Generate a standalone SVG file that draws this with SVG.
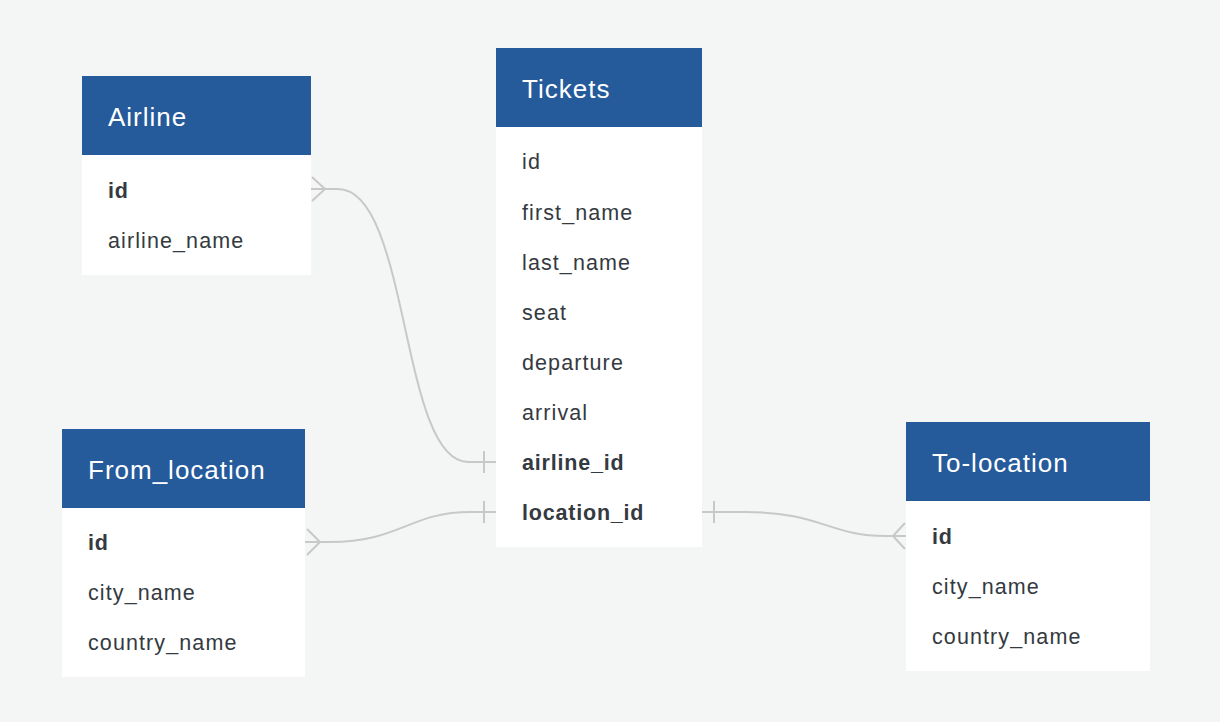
<svg xmlns="http://www.w3.org/2000/svg" width="1220" height="722" viewBox="0 0 1220 722">
<style>
.bg{fill:#f4f6f5}
.body{fill:#ffffff}
.head{fill:#255a9b}
.title{font-family:"Liberation Sans",Arial,sans-serif;font-size:26px;fill:#ffffff;letter-spacing:1px}
.row{font-family:"Liberation Sans",Arial,sans-serif;font-size:21.5px;fill:#343a40;letter-spacing:1.1px}
.b{font-weight:bold;letter-spacing:0.8px}
.conn{fill:none;stroke:#c8c8c8;stroke-width:2}
</style>
<rect class="bg" x="0" y="0" width="1220" height="722"/>
<g id="connectors">
  <path class="conn" d="M311 189 L338 189 C 410 189 400 462 468 462 L496 462"/>
  <path class="conn" d="M325 189 L312 177 M325 189 L312 201"/>
  <path class="conn" d="M484 451 V473"/>
  <path class="conn" d="M305 542 L330 542 C 400 542 410 512 470 512 L496 512"/>
  <path class="conn" d="M320 542 L307 529 M320 542 L307 555"/>
  <path class="conn" d="M484 501 V523"/>
  <path class="conn" d="M702 512 L745 512 C 820 512 830 536 885 536 L906 536"/>
  <path class="conn" d="M714 501 V523"/>
  <path class="conn" d="M893 536 L905 523 M893 536 L905 549"/>
</g>
<g id="airline">
  <rect class="body" x="82" y="76" width="229" height="199"/>
  <rect class="head" x="82" y="76" width="229" height="79"/>
  <text class="title" x="108" y="126">Airline</text>
  <text class="row b" x="108" y="198">id</text>
  <text class="row" x="108" y="248">airline_name</text>
</g>
<g id="tickets">
  <rect class="body" x="496" y="48" width="206" height="499"/>
  <rect class="head" x="496" y="48" width="206" height="79"/>
  <text class="title" x="522" y="98">Tickets</text>
  <text class="row" x="522" y="169">id</text>
  <text class="row" x="522" y="220">first_name</text>
  <text class="row" x="522" y="270">last_name</text>
  <text class="row" x="522" y="320">seat</text>
  <text class="row" x="522" y="370">departure</text>
  <text class="row" x="522" y="420">arrival</text>
  <text class="row b" x="522" y="470">airline_id</text>
  <text class="row b" x="522" y="520">location_id</text>
</g>
<g id="from_location">
  <rect class="body" x="62" y="429" width="243" height="248"/>
  <rect class="head" x="62" y="429" width="243" height="79"/>
  <text class="title" x="88" y="479">From_location</text>
  <text class="row b" x="88" y="550">id</text>
  <text class="row" x="88" y="600">city_name</text>
  <text class="row" x="88" y="650">country_name</text>
</g>
<g id="to_location">
  <rect class="body" x="906" y="422" width="244" height="249"/>
  <rect class="head" x="906" y="422" width="244" height="79"/>
  <text class="title" x="932" y="472">To-location</text>
  <text class="row b" x="932" y="544">id</text>
  <text class="row" x="932" y="594">city_name</text>
  <text class="row" x="932" y="644">country_name</text>
</g>
</svg>
